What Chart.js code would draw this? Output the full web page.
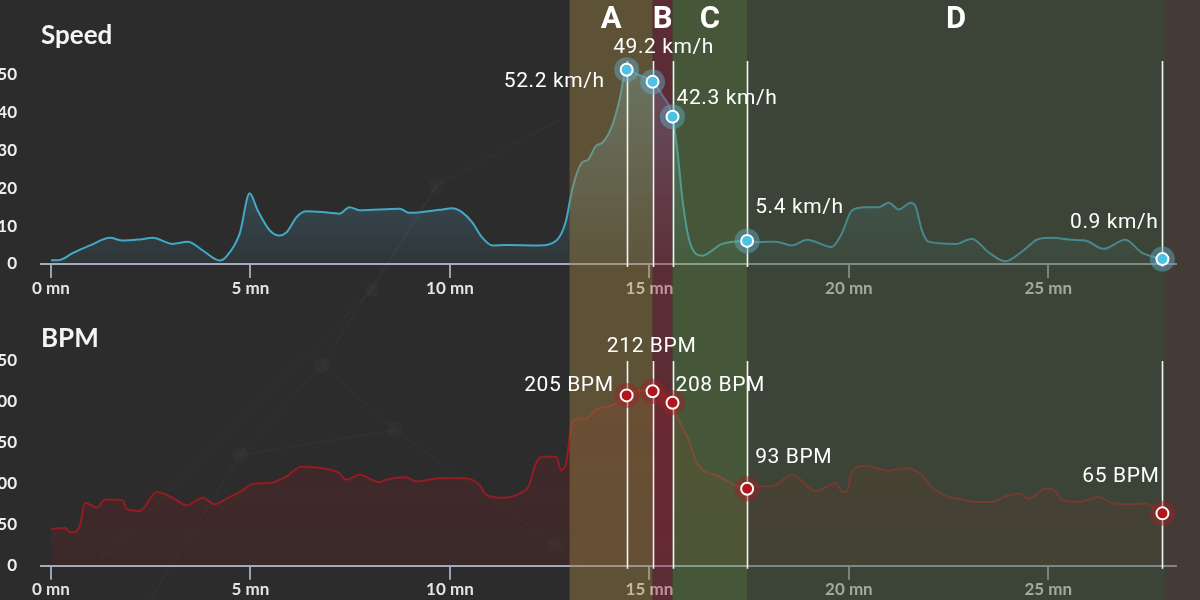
<!DOCTYPE html>
<html><head><meta charset="utf-8">
<script src="https://cdn.jsdelivr.net/npm/chart.js@4.4.1/dist/chart.umd.min.js"></script>
<style>
html,body{margin:0;padding:0;background:#2c2c2c;width:1200px;height:600px;overflow:hidden}
.wrap{position:absolute;left:0;width:1200px;height:300px}
#w1{top:0}#w2{top:300px}
#bg{position:absolute;left:0;top:0}
canvas{display:block}
</style></head><body>
<svg id="bg" width="1200" height="600" xmlns="http://www.w3.org/2000/svg">
  <g stroke="rgba(255,255,255,0.018)" stroke-width="2" fill="none">
    <polyline points="240,455 322,365 437,185 560,120"/>
    <polyline points="322,365 395,430 555,545 640,600"/>
    <polyline points="150,600 240,455 395,430"/>
    <polyline points="100,560 372,290 437,185"/>
  </g>
  <g fill="rgba(255,255,255,0.025)">
    <circle cx="437" cy="185" r="8"/><circle cx="322" cy="365" r="8"/><circle cx="240" cy="455" r="8"/>
    <circle cx="395" cy="430" r="8"/><circle cx="555" cy="545" r="8"/><circle cx="372" cy="290" r="7"/>
  </g>
</svg>
<div class="wrap" id="w1"><canvas id="c1" width="1200" height="300"></canvas></div>
<div class="wrap" id="w2"><canvas id="c2" width="1200" height="300"></canvas></div>
<script>
// ---------- data ----------
const speedTimes = [0.0,0.18,0.55,0.98,1.48,1.8,2.23,2.55,3.05,3.43,3.8,4.23,4.4,4.73,4.98,5.18,5.48,5.73,5.9,6.16,6.4,6.81,7.23,7.48,7.73,8.74,8.99,9.74,10.06,10.3,10.56,10.8,11.06,11.4,12.24,12.67,12.9,13.07,13.32,13.45,13.66,13.82,14.07,14.24,14.43,14.74,15.08,15.32,15.58,15.7,15.83,16.0,16.32,16.82,17.45,17.75,18.17,18.57,18.95,19.57,19.82,20.08,20.42,20.75,21.0,21.25,21.55,21.67,21.83,22.0,22.68,23.08,23.5,23.93,24.34,24.76,25.08,25.58,25.93,26.38,26.93,27.33,27.86];
const speedValues = [1.0,1.0,2.9,4.9,6.9,6.2,6.5,6.9,5.3,5.9,3.6,0.9,2.0,8.0,18.7,14.2,8.9,7.5,8.3,12.4,13.9,13.7,13.3,15.0,14.2,14.6,13.5,14.3,14.7,13.7,11.0,7.1,4.9,5.0,4.9,6.2,11.0,19.9,26.9,27.4,31.2,32.0,36.6,42.8,51.3,49.9,48.1,44.6,38.9,30.0,17.0,6.2,2.2,5.3,6.1,5.8,5.9,4.9,6.4,4.5,8.0,14.2,15.0,15.0,16.2,14.4,16.2,15.3,8.9,5.9,5.3,6.7,3.1,0.7,3.3,6.6,6.9,6.4,6.2,4.0,6.4,3.1,1.3];
const bpmTimes = [0.0,0.35,0.48,0.6,0.73,0.85,1.15,1.35,1.8,1.9,2.23,2.65,3.05,3.4,3.8,4.1,4.4,4.73,5.06,5.48,5.9,6.28,6.81,7.23,7.4,7.73,8.24,8.4,8.9,9.15,9.74,10.36,10.74,10.91,11.33,11.74,11.99,12.11,12.29,12.66,12.79,12.91,13.07,13.41,13.66,14.07,14.43,14.74,15.08,15.32,15.58,15.74,15.95,16.2,16.75,17.45,17.75,18.07,18.57,19.17,19.67,19.82,19.95,20.08,20.42,20.99,21.42,21.83,22.05,22.5,22.75,23.18,23.58,23.93,24.3,24.5,24.93,25.13,25.33,25.76,26.26,26.58,27.0,27.43,27.86];
const bpmValues = [45,46,41,41,50,77,71,81,80,69,67,90,83,74,83,75,82,90,100,101,109,121,119,113,105,111,102,105,108,103,107,107,99,87,83,88,99,119,133,133,117,125,176,180,191,196,208,214,213,208,199,178,158,125,109,94,97,97,111,91,101,91,90,116,122,116,119,111,97,84,82,78,78,85,88,82,94,93,81,78,84,77,75,76,64];
const xTickValues = [0,5,10,15,20,25];
const speedTickValues = [0,10,20,30,40,50];
const bpmTickValues = [0,50,100,150,200,250];
const markTimes = [14.43,15.08,15.58,17.45,27.86];
const speedMarks = [51.3,48.1,38.9,6.1,1.3];
const bpmMarks = [208,213,199,94,64];
const speedMarkLabels = ['52.2 km/h','49.2 km/h','42.3 km/h','5.4 km/h','0.9 km/h'];
const bpmMarkLabels = ['205 BPM','212 BPM','208 BPM','93 BPM','65 BPM'];
const segmentNames = ['A','B','C','D'];
const segmentBounds = [13.0,15.08,15.58,17.45,27.93];

// ---------- styles ----------
const segmentColors = ['rgba(152,127,66,0.45)','rgba(150,45,62,0.45)','rgba(100,140,72,0.45)','rgba(78,98,66,0.45)'];
const tailColor = 'rgba(98,76,66,0.45)';
const speedPlacement = [[-22,17,'right'],[11,-29,'center'],[4,-13,'left'],[8,-28,'left'],[-4,-31,'right']];
const bpmPlacement = [[-13,-4,'right'],[-1,-39,'center'],[3,-12,'left'],[8,-26,'left'],[-3,-31,'right']];

function overlayPlugin(o){
  return {
    id:'overlay'+o.title,
    afterDatasetsDraw(chart){
      const {ctx} = chart; const x = chart.scales.x;
      ctx.save();
      for(let i=0;i<segmentNames.length;i++){
        const x0 = x.getPixelForValue(segmentBounds[i]);
        const x1 = x.getPixelForValue(segmentBounds[i+1]);
        ctx.fillStyle = segmentColors[i];
        ctx.fillRect(x0,0,x1-x0,chart.height);
      }
      const xt = x.getPixelForValue(segmentBounds[segmentBounds.length-1]);
      ctx.fillStyle = tailColor;
      ctx.fillRect(xt,0,chart.width-xt,chart.height);
      ctx.restore();
    },
    afterDraw(chart){
      const {ctx, chartArea} = chart; const x = chart.scales.x, y = chart.scales.y;
      ctx.save();
      ctx.strokeStyle = '#f4f4f4'; ctx.lineWidth = 1.6;
      markTimes.forEach(t=>{
        const px = Math.round(x.getPixelForValue(t))+0.5;
        ctx.beginPath(); ctx.moveTo(px, chartArea.top); ctx.lineTo(px, chartArea.bottom+3); ctx.stroke();
      });
      markTimes.forEach((t,i)=>{
        const px = x.getPixelForValue(t), py = y.getPixelForValue(o.marks[i]);
        ctx.beginPath(); ctx.arc(px,py,12.5,0,Math.PI*2); ctx.fillStyle = o.halo; ctx.fill();
        ctx.beginPath(); ctx.arc(px,py,6,0,Math.PI*2); ctx.fillStyle = o.dot; ctx.fill();
        ctx.lineWidth = 2; ctx.strokeStyle = '#ffffff'; ctx.stroke();
      });
      ctx.font = '400 21px Roboto';
      if ('letterSpacing' in ctx) ctx.letterSpacing = '0.6px';
      ctx.fillStyle = '#ffffff'; ctx.textBaseline = 'alphabetic';
      markTimes.forEach((t,i)=>{
        const px = x.getPixelForValue(t), py = y.getPixelForValue(o.marks[i]);
        const p = o.place[i];
        ctx.textAlign = p[2];
        ctx.fillText(o.labels[i], px+p[0], py+p[1]);
      });
      if ('letterSpacing' in ctx) ctx.letterSpacing = '0px';
      ctx.font = 'bold 26px Lato'; ctx.textAlign = 'left'; ctx.fillStyle = '#f4f4f4';
      ctx.fillText(o.title, 41, o.titleY);
      if (o.letters){
        ctx.font = 'bold 31px Roboto'; ctx.textAlign = 'center'; ctx.fillStyle = '#ffffff';
        for(let i=0;i<segmentNames.length;i++){
          const cx = (x.getPixelForValue(segmentBounds[i]) + x.getPixelForValue(segmentBounds[i+1]))/2;
          ctx.fillText(segmentNames[i], cx, 28);
        }
      }
      ctx.restore();
    }
  };
}

function makeChart(id, o){
  return new Chart(document.getElementById(id), {
    type:'line',
    data:{datasets:[{
      data: o.times.map((t,i)=>({x:t, y:o.values[i]})),
      borderColor:o.line, borderWidth:2, pointRadius:0, fill:'origin',
      cubicInterpolationMode:'monotone', tension:0.4,
      backgroundColor:(c)=>{
        const ca = c.chart.chartArea; if(!ca) return 'transparent';
        const g = c.chart.ctx.createLinearGradient(0,ca.top,0,ca.bottom);
        g.addColorStop(0,o.fillTop); g.addColorStop(1,o.fillBottom); return g;
      }
    }]},
    options:{
      responsive:false, animation:false, events:[],
      layout:{padding:{top:61,right:24,left:0,bottom:0}},
      plugins:{legend:{display:false}, tooltip:{enabled:false}},
      scales:{
        x:{type:'linear', min:-0.25, max:28.2,
          afterBuildTicks:a=>{a.ticks = xTickValues.map(v=>({value:v}));},
          afterFit:a=>{a.height = o.xh;},
          grid:{drawOnChartArea:false, drawTicks:true, tickLength:14, color:'#9ba1b6', lineWidth:2},
          border:{color:'#a7acc1', width:2},
          ticks:{color:'#e4e4e4', font:{family:'Lato', weight:'bold', size:17}, padding:0, maxRotation:0, autoSkip:false, callback:v=>v+' mn'}
        },
        y:{min:0, max:o.ymax,
          afterBuildTicks:a=>{a.ticks = o.yticks.map(v=>({value:v}));},
          afterFit:a=>{a.width = 41;},
          grid:{display:false, drawTicks:false}, border:{display:false},
          ticks:{color:'#eeeeee', font:{family:'Lato', weight:'bold', size:17}, padding:24}
        }
      }
    },
    plugins:[overlayPlugin(o)]
  });
}

makeChart('c1', {times:speedTimes, values:speedValues, line:'#43a8c8',
  fillTop:'rgba(90,165,195,0.55)', fillBottom:'rgba(90,165,195,0.08)',
  ymax:53.6, yticks:speedTickValues, xh:36, marks:speedMarks, labels:speedMarkLabels, place:speedPlacement,
  halo:'rgba(100,175,205,0.45)', dot:'#4ec2e6', title:'Speed', titleY:44, letters:true});
makeChart('c2', {times:bpmTimes, values:bpmValues, line:'#961b23',
  fillTop:'rgba(140,30,34,0.28)', fillBottom:'rgba(140,30,34,0.16)',
  ymax:250, yticks:bpmTickValues, xh:33, marks:bpmMarks, labels:bpmMarkLabels, place:bpmPlacement,
  halo:'rgba(165,30,35,0.45)', dot:'#b3151f', title:'BPM', titleY:47, letters:false});
</script>
</body></html>
